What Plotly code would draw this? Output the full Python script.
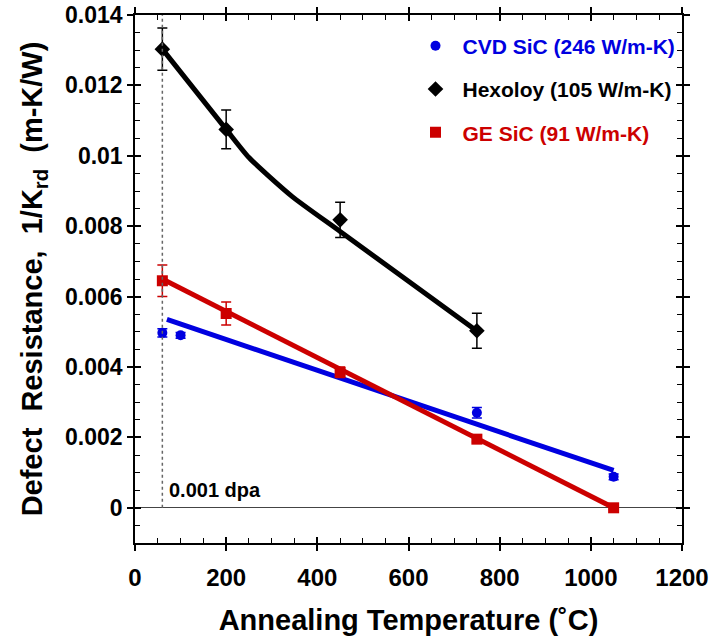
import plotly.graph_objects as go

# ---- data ----
cvd_x = [60, 100, 450, 750, 1050]
cvd_y = [0.00497, 0.0049, 0.0038, 0.0027, 0.00088]
cvd_err = [0.00012, 0.00008, 0.00012, 0.00015, 0.00008]
cvd_fit_x = [70, 1050]
cvd_fit_y = [0.00535, 0.00106]

hex_x = [60, 200, 450, 750]
hex_y = [0.01303, 0.01075, 0.00818, 0.00503]
hex_err = [0.0006, 0.00055, 0.0005, 0.0005]
hex_fit_x = [60, 200, 250, 345, 450, 750]
hex_fit_y = [0.01303, 0.01075, 0.00995, 0.00884, 0.00785, 0.00502]

ge_x = [60, 200, 450, 750, 1050]
ge_y = [0.00645, 0.00552, 0.00385, 0.00195, 0.0]
ge_err = [0.00045, 0.00033, 0.00015, 0.00008, 0.00005]
ge_fit_x = [60, 1050]
ge_fit_y = [0.0065, 0.0]

x_ticks = [0, 200, 400, 600, 800, 1000, 1200]
y_ticks = [0, 0.002, 0.004, 0.006, 0.008, 0.01, 0.012, 0.014]
y_tick_text = ["0", "0.002", "0.004", "0.006", "0.008", "0.01", "0.012", "0.014"]

BLUE = "#0000E0"
RED = "#CC0000"
BLACK = "#000000"
FONT = "Liberation Sans"

fig = go.Figure()

# fit lines
fig.add_trace(go.Scatter(x=cvd_fit_x, y=cvd_fit_y, mode="lines",
                         line=dict(color=BLUE, width=5), showlegend=False, hoverinfo="skip"))
fig.add_trace(go.Scatter(x=ge_fit_x, y=ge_fit_y, mode="lines",
                         line=dict(color=RED, width=5), showlegend=False, hoverinfo="skip"))
fig.add_trace(go.Scatter(x=hex_fit_x, y=hex_fit_y, mode="lines",
                         line=dict(color=BLACK, width=5, shape="spline", smoothing=0.6),
                         showlegend=False, hoverinfo="skip"))

# data points
fig.add_trace(go.Scatter(
    x=cvd_x, y=cvd_y, mode="markers",
    name="<span style='color:%s'>CVD SiC (246 W/m-K)</span>" % BLUE,
    legendgroup="a",
    marker=dict(symbol="circle", size=10, color=BLUE),
    error_y=dict(type="data", array=cvd_err, color=BLUE, thickness=1.5, width=5)))
fig.add_trace(go.Scatter(
    x=hex_x, y=hex_y, mode="markers",
    name="<span style='color:%s'>Hexoloy (105 W/m-K)</span>" % BLACK,
    legendgroup="b",
    marker=dict(symbol="diamond", size=12, color=BLACK),
    error_y=dict(type="data", array=hex_err, color=BLACK, thickness=1.5, width=5)))
fig.add_trace(go.Scatter(
    x=ge_x, y=ge_y, mode="markers",
    name="<span style='color:%s'>GE SiC (91 W/m-K)</span>" % RED,
    legendgroup="c",
    marker=dict(symbol="square", size=11, color=RED),
    error_y=dict(type="data", array=ge_err, color=RED, thickness=1.5, width=5)))

# invisible trace for overlay axes (inside ticks)
fig.add_trace(go.Scatter(x=[x_ticks[0]], y=[y_ticks[0]], xaxis="x2", yaxis="y2",
                         mode="markers", marker=dict(opacity=0), showlegend=False,
                         hoverinfo="skip"))

# dotted vertical line at 0.001 dpa
fig.add_shape(type="line", x0=60, x1=60, y0=0, y1=0.014, xref="x", yref="y",
              line=dict(color="#666666", width=1.5, dash="dot"))

fig.add_annotation(x=70, y=0.0005, xref="x", yref="y", text="<b>0.001 dpa</b>",
                   showarrow=False, xanchor="left", yanchor="middle",
                   font=dict(family=FONT, size=20, color=BLACK))

xr = [0, 1200]
yr = [-0.001, 0.014]

fig.update_layout(
    width=715, height=642,
    margin=dict(l=135, r=33, t=15, b=99),
    paper_bgcolor="white", plot_bgcolor="white",
    font=dict(family=FONT, color=BLACK),
    showlegend=True,
    legend=dict(x=0.5, y=0.98, xanchor="left", yanchor="top",
                bgcolor="rgba(0,0,0,0)", tracegroupgap=13,
                font=dict(family=FONT, size=21, weight="bold"),
                itemwidth=44),
    xaxis=dict(range=xr, tickvals=x_ticks, ticks="outside", ticklen=6, tickwidth=1.5,
               tickcolor=BLACK, showline=True, linecolor=BLACK, linewidth=1.5,
               mirror="ticks", showgrid=False, zeroline=False, ticklabelstandoff=6,
               automargin=False,
               tickfont=dict(family=FONT, size=24, weight="bold"),
               title=dict(text="<b>Annealing Temperature (˚C)</b>",
                          font=dict(family=FONT, size=29), standoff=20)),
    yaxis=dict(range=yr, tickvals=y_ticks, ticktext=y_tick_text, ticks="outside",
               ticklen=6, tickwidth=1.5, tickcolor=BLACK, showline=True,
               linecolor=BLACK, linewidth=1.5, mirror="ticks", showgrid=False,
               zeroline=True, zerolinecolor="#444444", zerolinewidth=1,
               automargin=False,
               tickfont=dict(family=FONT, size=23, weight="bold"),
               title=dict(text="<b>Defect  Resistance,  1/K<sub>rd</sub>  (m-K/W)</b>",
                          font=dict(family=FONT, size=29), standoff=14)),
    xaxis2=dict(range=xr, overlaying="x", tickvals=x_ticks, ticks="inside", ticklen=6,
                tickwidth=1.5, tickcolor=BLACK, mirror="ticks", showline=False,
                showgrid=False, zeroline=False, showticklabels=False,
                minor=dict(dtick=50, ticks="inside", ticklen=5, tickwidth=1,
                           tickcolor=BLACK, showgrid=False)),
    yaxis2=dict(range=yr, overlaying="y", tickvals=y_ticks, ticks="inside", ticklen=6,
                tickwidth=1.5, tickcolor=BLACK, mirror="ticks", showline=False,
                showgrid=False, zeroline=False, showticklabels=False,
                minor=dict(dtick=0.0005, ticks="inside", ticklen=5, tickwidth=1,
                           tickcolor=BLACK, showgrid=False)),
)

fig.write_html("out.html")
